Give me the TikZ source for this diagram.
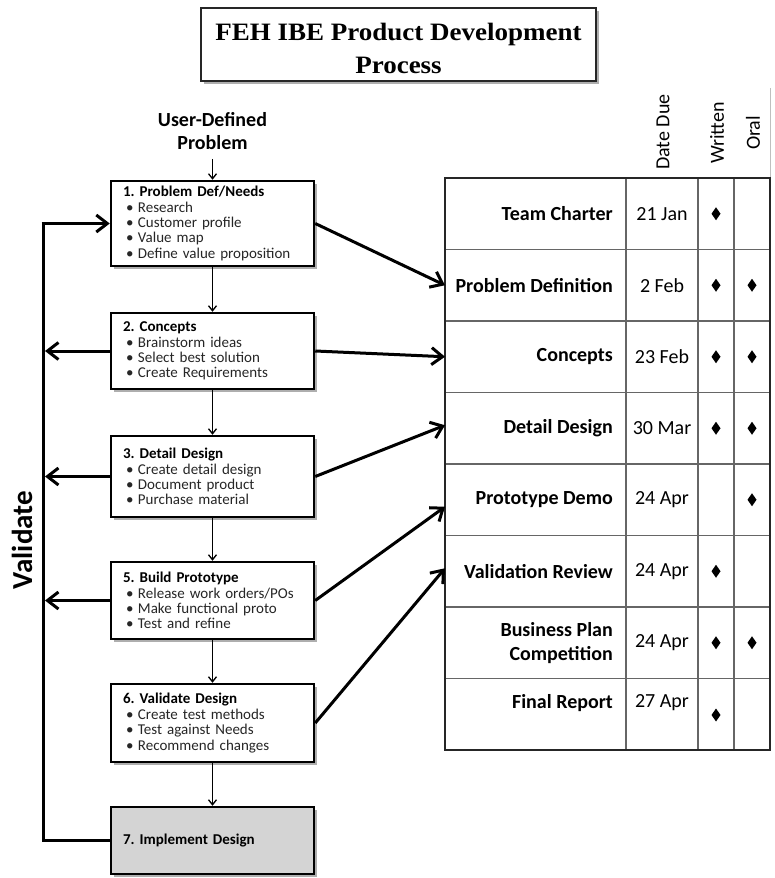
\documentclass[tikz,border=0pt]{standalone}
\usepackage{fontspec}
\usepackage{graphicx}
\setmainfont{Carlito}
\newfontfamily\titlefont{Liberation Serif}
\usetikzlibrary{arrows.meta,shadows}
\frenchspacing

\newcommand\stepbul{\makebox[15pt][l]{\hspace{3pt}\textbullet}}
\newcommand\dmd[1]{\fill[black] #1 ++(0,-6.5) -- ++(4.5,6.5) -- ++(-4.5,6.5) -- ++(-4.5,-6.5) -- cycle;}

\tikzset{
  shade box/.style={drop shadow={shadow xshift=2.5pt, shadow yshift=-2.5pt, fill=black!45, opacity=0.7}},
  titlebox/.style={draw=black!85, line width=1.5pt, fill=white, shade box,
    minimum width=395pt, minimum height=73pt, align=center, inner sep=0pt,
    font=\titlefont\bfseries\fontsize{25}{33}\selectfont},
  stepbox/.style={draw=black, line width=2.5pt, fill=white, shade box, rectangle,
    minimum width=203pt, text width=179pt, inner xsep=12pt, inner ysep=0pt,
    align=left, font=\fontsize{15}{15.4}\selectfont, text=black!85},
  feed/.style={line width=3pt, -{Straight Barb[length=11pt,width=17pt]}},
  loopline/.style={line width=3pt},
  flow/.style={line width=1.3pt, -{Straight Barb[length=5pt,width=8pt]}},
  rowlabel/.style={anchor=east, align=right, inner sep=0pt, font=\bfseries\fontsize{20}{24}\selectfont},
  datecell/.style={inner sep=0pt, font=\fontsize{20}{24}\selectfont},
  headcell/.style={rotate=90, inner sep=0pt, font=\fontsize{20}{24}\selectfont},
  outerrule/.style={line width=1.5pt, draw=black!85},
  innerrule/.style={line width=1.2pt, draw=black!60},
}

\begin{document}
\begin{tikzpicture}[x=1pt,y=-1pt]
\useasboundingbox (0,0) rectangle (774,878);
\fill[white] (0,0) rectangle (774,878);

% heading
\node[titlebox] (title) at (398.5,44.5) {};
\node[align=center, inner sep=0pt, font=\titlefont\bfseries\fontsize{25}{33}\selectfont] (titletext) at (398.5,48)
  {\scalebox{1.08}[1]{FEH IBE Product Development}\\\scalebox{1.08}[1]{Process}};

% process steps
\node[align=center, inner sep=0pt, font=\bfseries\fontsize{20}{23}\selectfont] (udp) at (212.5,131) {User-Defined\\Problem};

\node[stepbox, minimum height=85pt] (b1) at (212.5,223.5)
  {\textbf{\color{black}1. Problem Def/Needs}\\\stepbul Research\\\stepbul Customer profile\\\stepbul Value map\\\stepbul Define value proposition};
\node[stepbox, minimum height=76pt] (b2) at (212.5,351)
  {\textbf{\color{black}2. Concepts}\\\stepbul Brainstorm ideas\\\stepbul Select best solution\\\stepbul Create Requirements};
\node[stepbox, minimum height=81pt] (b3) at (212.5,476.5)
  {\textbf{\color{black}3. Detail Design}\\\stepbul Create detail design\\\stepbul Document product\\\stepbul Purchase material};
\node[stepbox, minimum height=77pt] (b5) at (212.5,600.5)
  {\textbf{\color{black}5. Build Prototype}\\\stepbul Release work orders/POs\\\stepbul Make functional proto\\\stepbul Test and refine};
\node[stepbox, minimum height=78pt] (b6) at (212.5,723)
  {\textbf{\color{black}6. Validate Design}\\\stepbul Create test methods\\\stepbul Test against Needs\\\stepbul Recommend changes};
\node[stepbox, minimum height=67pt, fill=black!17] (b7) at (212.5,840.5)
  {\textbf{\color{black}7. Implement Design}};

\draw[flow] ([yshift=-9pt]udp.south) -- (b1.north);
\draw[flow] (b1.south) -- (b2.north);
\draw[flow] (b2.south) -- (b3.north);
\draw[flow] (b3.south) -- (b5.north);
\draw[flow] (b5.south) -- (b6.north);
\draw[flow] (b6.south) -- (b7.north);

% validation loop
\coordinate (loopx) at (43,0);
\coordinate (tipx) at (45,0);
\draw[loopline] (b7.west) -| (b1.west -| loopx);
\draw[feed] ([xshift=-1.5pt]b1.west -| loopx) -- (b1.west);
\draw[feed] (b2.west) -- (b2.west -| tipx);
\draw[feed] (b3.west) -- (b3.west -| tipx);
\draw[feed] (b5.west) -- (b5.west -| tipx);
\node[rotate=90, inner sep=0pt, font=\bfseries\fontsize{29}{32}\selectfont] (val) at (22,540) {Validate};

% deliverables table
\draw[black!25, line width=1pt] (770,88) -- (770,178);
\foreach \yy in {249.5,321,392.5,464,535.5,607,678.5}
  \draw[innerrule] (445,\yy) -- (770,\yy);
\foreach \xx in {626,698,734}
  \draw[innerrule] (\xx,178) -- (\xx,750);
\draw[outerrule] (445,178) rectangle (770,750);

\node[headcell] (hdate) at (663,132) {Date Due};
\node[headcell] (hwritten) at (717,133) {Written};
\node[headcell] (horal) at (753,133) {Oral};

\node[rowlabel] (r1) at (613,213.75) {Team Charter};
\node[rowlabel] (r2) at (613,285.25) {Problem Definition};
\node[rowlabel] (r3) at (613,356.75) {Concepts};
\node[rowlabel] (r4) at (613,428.25) {Detail Design};
\node[rowlabel] (r5) at (613,499.75) {Prototype Demo};
\node[rowlabel] (r6) at (613,571.25) {Validation Review};
\node[rowlabel] (r7) at (613,642.75) {Business Plan\\Competition};
\node[rowlabel] (r8) at (613,703) {Final Report};

\node[datecell] (d1) at (662,213.75) {21 Jan};
\node[datecell] (d2) at (662,285.25) {2 Feb};
\node[datecell] (d3) at (662,356.75) {23 Feb};
\node[datecell] (d4) at (662,428.25) {30 Mar};
\node[datecell] (d5) at (662,499.75) {24 Apr};
\node[datecell] (d6) at (662,571.25) {24 Apr};
\node[datecell] (d7) at (662,642.75) {24 Apr};
\node[datecell] (d8) at (662,703) {27 Apr};

% written marks
\dmd{(716,213.75)}
\dmd{(716,285.25)}
\dmd{(716,356.75)}
\dmd{(716,428.25)}
\dmd{(716,571.25)}
\dmd{(716,642.75)}
\dmd{(716,715)}
% oral marks
\dmd{(752,285.25)}
\dmd{(752,356.75)}
\dmd{(752,428.25)}
\dmd{(752,499.75)}
\dmd{(752,642.75)}

% links from steps to deliverables
\coordinate (tabL) at (445,0);
\coordinate (a5) at ([yshift=-7pt]r5.west);
\draw[feed] (b1.east) -- (r2 -| tabL);
\draw[feed] (b2.east) -- (r3 -| tabL);
\draw[feed] (b3.east) -- ([yshift=3pt]r4 -| tabL);
\draw[feed] (b5.east) -- (a5 -| tabL);
\draw[feed] (b6.east) -- ([yshift=3pt]r6 -| tabL);
\end{tikzpicture}
\end{document}
